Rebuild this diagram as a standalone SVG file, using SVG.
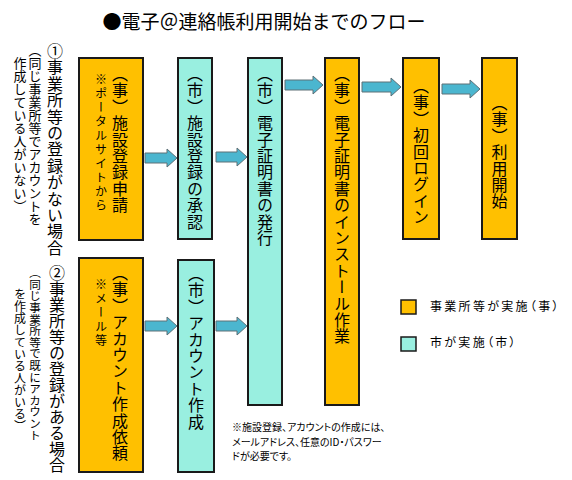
<svg xmlns="http://www.w3.org/2000/svg" width="572" height="480" viewBox="0 0 572 480">
<style>
text { font-family: "Noto Sans CJK JP", "Noto Sans", sans-serif; fill: #000; }
.v { writing-mode: vertical-rl; }
.box { stroke: #1a1a1a; stroke-width: 2; }
.jig { fill: #FFC000; }
.shi { fill: #99EFE0; }
.m { font-size: 16px; letter-spacing: 0.4px; }
.s { font-size: 12px; letter-spacing: 2px; }
.arrow { fill: #4BB6CF; stroke: #5E7077; stroke-width: 1; }
.leg { font-size: 12px; letter-spacing: 2.3px; font-feature-settings: "palt"; }
.note { font-size: 10px; font-feature-settings: "palt"; }
</style>
<rect width="572" height="480" fill="#fff"/>
<text id="title" x="264" y="29" text-anchor="middle" font-size="19">●電子＠連絡帳利用開始までのフロー</text>

<g id="case1">
<text class="v" x="55" y="43" font-size="16" letter-spacing="0.4">①事業所等の登録がない場合</text>
<text class="v" x="35" y="44" font-size="13">（同じ事業所等でアカウントを</text>
<text class="v" x="20" y="57" font-size="13">作成している人がいない）</text>
</g>
<g id="case2">
<text class="v" x="57" y="265" font-size="16">②事業所等の登録がある場合</text>
<text class="v" x="35" y="267" font-size="11.6">（同じ事業所等で既にアカウント</text>
<text class="v" x="20" y="288" font-size="12">を作成している人がいる）</text>
</g>

<g id="connectors">
<path class="arrow" d="M145,153 H167 V149 L177,158 L167,167 V163 H145 Z"/>
<path class="arrow" d="M216,152 H237 V148 L247,157 L237,166 V162 H216 Z"/>
<path class="arrow" d="M285,80 H313 V76 L323,85 L313,94 V90 H285 Z"/>
<path class="arrow" d="M362,82 H391 V78 L401,87 L391,96 V92 H362 Z"/>
<path class="arrow" d="M442,84 H470 V80 L480,89 L470,98 V94 H442 Z"/>
<path class="arrow" d="M145,321 H167 V317 L177,326 L167,335 V331 H145 Z"/>
<path class="arrow" d="M216,321 H237 V317 L247,326 L237,335 V331 H216 Z"/>
</g>

<g id="n1">
<rect class="box jig" x="79" y="58" width="64" height="182"/>
<text class="v m" x="120" y="66">（事）施設登録申請</text>
<text class="v s" x="101" y="73">※ポータルサイトから</text>
</g>
<g id="n2">
<rect class="box shi" x="178" y="58" width="34" height="181"/>
<text class="v m" x="195" y="66">（市）施設登録の承認</text>
</g>
<g id="n3">
<rect class="box shi" x="248" y="58" width="34" height="347"/>
<text class="v m" x="265" y="66">（市）電子証明書の発行</text>
</g>
<g id="n4">
<rect class="box jig" x="325" y="58" width="34" height="347"/>
<text class="v m" x="342" y="66">（事）電子証明書のインストール作業</text>
</g>
<g id="n5">
<rect class="box jig" x="403" y="58" width="36" height="181"/>
<text class="v m" x="421" y="78">（事）初回ログイン</text>
</g>
<g id="n6">
<rect class="box jig" x="482" y="58" width="35" height="181"/>
<text class="v m" x="499.5" y="95">（事）利用開始</text>
</g>
<g id="n7">
<rect class="box jig" x="79" y="258" width="64" height="214"/>
<text class="v m" x="120" y="265">（事）アカウント作成依頼</text>
<text class="v s" x="101" y="278" letter-spacing="1">※メール等</text>
</g>
<g id="n8">
<rect class="box shi" x="178" y="260" width="36" height="212"/>
<text class="v m" x="196" y="266">（市）アカウント作成</text>
</g>

<g id="legend">
<rect x="401" y="300" width="15" height="14" fill="#FFC000" stroke="#1a1a1a" stroke-width="1.5"/>
<text class="leg" x="430" y="311">事業所等が実施（事）</text>
<rect x="401" y="337" width="15" height="14" fill="#99EFE0" stroke="#1a1a1a" stroke-width="1.5"/>
<text class="leg" x="430" y="347">市が実施（市）</text>
</g>

<g id="note">
<text class="note" x="232" y="431">※施設登録、アカウントの作成には、</text>
<text class="note" x="232" y="445.5">メールアドレス、任意のID・パスワー</text>
<text class="note" x="232" y="460">ドが必要です。</text>
</g>
</svg>
